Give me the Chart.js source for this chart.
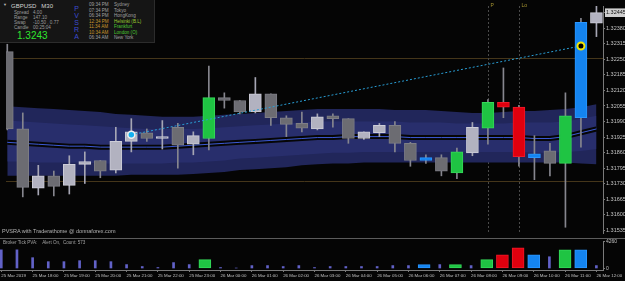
<!DOCTYPE html>
<html>
<head>
<meta charset="utf-8">
<script src="https://cdn.jsdelivr.net/npm/chart.js@4.4.1/dist/chart.umd.min.js"></script>
<style>
body { margin: 0; background: #050505; width: 625px; height: 281px; overflow: hidden; font-family: "Liberation Sans", Arial, sans-serif; }
#wrap { position: relative; width: 625px; height: 281px; }
canvas { position: absolute; left: 0; }
#priceChart { top: 0; }
#volChart { top: 239px; }
.sep { position: absolute; left: 0; top: 238px; width: 625px; height: 1px; background: #5c5c5c; }
.t { position: absolute; white-space: pre; line-height: 1; }
#info { position: absolute; left: 0; top: 0; width: 154px; height: 42px; background: #151515; border-right: 1px solid #2c2c2c; border-bottom: 1px solid #2c2c2c; }
.st { font-size: 4.6px; color: #9c9c9c; }
.ses { font-size: 4.6px; color: #a0a0a0; }
.on { color: #c8952c; }
.gr { color: #4cc832; }
</style>
</head>
<body>
<div id="wrap">
  <canvas id="priceChart" width="625" height="239"></canvas>
  <canvas id="volChart" width="625" height="42"></canvas>
  <div class="sep"></div>

  <div id="info">
    <div class="t" style="left:3px;top:3px;font-size:4px;color:#bbb;">▼</div>
    <div class="t" style="left:11px;top:3px;font-size:6px;color:#d4d4d4;">GBPUSD   M30</div>
    <div class="t st" style="left:14px;top:11px;">Spread</div><div class="t st" style="left:33px;top:11px;">4.00</div>
    <div class="t st" style="left:14px;top:16px;">Range</div><div class="t st" style="left:33px;top:16px;">147.10</div>
    <div class="t st" style="left:14px;top:21px;">Swap</div><div class="t st" style="left:33px;top:21px;">-10.50 , 0.77</div>
    <div class="t st" style="left:14px;top:26px;">Candle</div><div class="t st" style="left:33px;top:26px;">00:25:04</div>
    <div class="t" style="left:17px;top:31px;font-size:10px;color:#2fe52f;">1.3243</div>
    <div class="t" style="left:74px;top:5px;font-size:7px;line-height:7px;color:#3c4cd0;text-align:center;">P<br>V<br>S<br>R<br>A</div>
    <div class="t ses" style="left:89px;top:3px;">09:34 PM</div><div class="t ses" style="left:114px;top:3px;">Sydney</div>
    <div class="t ses" style="left:89px;top:8.5px;">07:34 PM</div><div class="t ses" style="left:114px;top:8.5px;">Tokyo</div>
    <div class="t ses" style="left:89px;top:14px;">06:34 PM</div><div class="t ses" style="left:114px;top:14px;">HongKong</div>
    <div class="t ses on" style="left:89px;top:19.5px;">12:34 PM</div><div class="t ses" style="left:114px;top:19.5px;color:#9ccc30;">Helsinki (B.L)</div>
    <div class="t ses on" style="left:89px;top:25px;">11:34 AM</div><div class="t ses gr" style="left:114px;top:25px;">Frankfurt</div>
    <div class="t ses on" style="left:89px;top:30.5px;">10:34 AM</div><div class="t ses gr" style="left:114px;top:30.5px;">London (O)</div>
    <div class="t ses" style="left:89px;top:36px;">06:34 AM</div><div class="t ses" style="left:114px;top:36px;">New York</div>
  </div>

  <div class="t" style="left:2px;top:229px;font-size:5.5px;color:#b4b4b4;">PVSRA with Traderathome @ donnaforex.com</div>
  <div class="t" style="left:3px;top:241px;font-size:4.6px;color:#a0a0a0;">Broker Tick PVA:    Alert On,  Count: 573</div>
</div>

<script>
// 30 minute bars, 25 Mar 17:00 .. 26 Mar 12:00
const opens  = [1.32282,1.31959,1.31711,1.31763,1.31723,1.31811,1.31827,1.31787,1.31907,1.31943,1.31919,1.31966,1.31895,1.31919,1.32090,1.32078,1.32030,1.32106,1.32006,1.31982,1.31959,1.32014,1.32002,1.31919,1.31943,1.31974,1.31899,1.31827,1.31839,1.31775,1.31859,1.31962,1.32070,1.32050,1.31839,1.31867,1.31815,1.32006,1.32401];
const highs  = [1.32313,1.32026,1.31807,1.31783,1.31847,1.31863,1.31827,1.31966,1.32002,1.31959,1.31994,1.31982,1.31947,1.32222,1.32110,1.32078,1.32174,1.32106,1.32014,1.32030,1.32022,1.32022,1.32002,1.31947,1.31982,1.31990,1.31903,1.31851,1.31851,1.31879,1.31986,1.32082,1.32214,1.32058,1.31931,1.31899,1.32110,1.32421,1.32473];
const lows   = [1.31955,1.31675,1.31683,1.31679,1.31687,1.31731,1.31755,1.31775,1.31863,1.31907,1.31875,1.31795,1.31851,1.31871,1.32046,1.32022,1.32026,1.31974,1.31927,1.31947,1.31955,1.31966,1.31899,1.31915,1.31927,1.31863,1.31803,1.31815,1.31763,1.31751,1.31847,1.31895,1.32006,1.31803,1.31747,1.31763,1.31548,1.31883,1.32345];
const closes = [1.31959,1.31715,1.31763,1.31719,1.31811,1.31823,1.31783,1.31907,1.31947,1.31919,1.31923,1.31891,1.31931,1.32090,1.32078,1.32030,1.32106,1.32006,1.31978,1.31962,1.32010,1.32002,1.31919,1.31947,1.31974,1.31899,1.31827,1.31839,1.31783,1.31863,1.31966,1.32070,1.32050,1.31843,1.31855,1.31815,1.32014,1.32405,1.32445];
// PVSRA candle class
const pvsra = ['down','down','up','down','up','up','down','up','up','down','up','down','up','green','down','down','up','down','down','down','up','down','down','up','up','down','down','blue','down','green','up','green','red','red','blue','down','green','blue','up'];
const volumes = [3000,3000,1740,1100,1100,1260,1260,1100,630,320,160,950,630,1420,160,80,470,470,320,470,160,320,320,320,320,470,470,630,630,630,470,1420,2210,3310,2210,1890,3000,3000,470];

// zone bands
const bandUpper = [1.32054,1.32050,1.32046,1.32042,1.32038,1.32034,1.32030,1.32022,1.32018,1.32014,1.32010,1.32010,1.32010,1.32014,1.32018,1.32022,1.32026,1.32030,1.32034,1.32038,1.32042,1.32042,1.32042,1.32042,1.32042,1.32038,1.32038,1.32038,1.32034,1.32030,1.32026,1.32026,1.32030,1.32034,1.32034,1.32038,1.32042,1.32050,1.32062];
const innerUpper = [1.31994,1.31990,1.31986,1.31982,1.31978,1.31974,1.31970,1.31966,1.31962,1.31959,1.31959,1.31959,1.31959,1.31962,1.31966,1.31970,1.31974,1.31978,1.31982,1.31986,1.31990,1.31990,1.31990,1.31990,1.31990,1.31990,1.31986,1.31986,1.31986,1.31982,1.31982,1.31982,1.31982,1.31986,1.31986,1.31986,1.31990,1.32002,1.32014];
const bandMid = [1.31903,1.31899,1.31895,1.31891,1.31887,1.31887,1.31883,1.31883,1.31883,1.31883,1.31883,1.31887,1.31891,1.31895,1.31899,1.31903,1.31907,1.31911,1.31915,1.31919,1.31923,1.31923,1.31927,1.31927,1.31927,1.31927,1.31923,1.31923,1.31923,1.31923,1.31923,1.31923,1.31923,1.31923,1.31919,1.31919,1.31927,1.31943,1.31959];
const innerLower = [1.31823,1.31823,1.31819,1.31819,1.31819,1.31819,1.31815,1.31815,1.31815,1.31815,1.31815,1.31819,1.31819,1.31823,1.31827,1.31835,1.31839,1.31843,1.31847,1.31851,1.31855,1.31859,1.31859,1.31863,1.31863,1.31863,1.31863,1.31863,1.31863,1.31863,1.31863,1.31863,1.31863,1.31863,1.31859,1.31859,1.31863,1.31867,1.31875];
const bandLower = [1.31763,1.31763,1.31763,1.31763,1.31763,1.31763,1.31763,1.31763,1.31767,1.31767,1.31767,1.31767,1.31771,1.31775,1.31779,1.31787,1.31791,1.31795,1.31799,1.31807,1.31811,1.31815,1.31815,1.31819,1.31819,1.31819,1.31819,1.31819,1.31819,1.31819,1.31819,1.31819,1.31819,1.31819,1.31819,1.31819,1.31819,1.31815,1.31811];

const trendBars = [8, 37];
const trendPrices = [1.31935, 1.32306];
const levelPrices = [1.32254, 1.31743];
const markBars = [31, 33];
const markLabels = ['P', 'Lo'];

const priceTicks = [1.32445,1.32380,1.32315,1.32250,1.32185,1.32120,1.32055,1.31990,1.31925,1.31860,1.31795,1.31730,1.31665,1.31600,1.31535];
const volTicks = [0, 4260];
const timeLabels = ['25 Mar 2019','25 Mar 18:00','25 Mar 19:00','25 Mar 20:00','25 Mar 21:00','25 Mar 22:00','25 Mar 23:00','26 Mar 00:00','26 Mar 01:00','26 Mar 02:00','26 Mar 03:00','26 Mar 04:00','26 Mar 05:00','26 Mar 06:00','26 Mar 07:00','26 Mar 08:00','26 Mar 09:00','26 Mar 10:00','26 Mar 11:00','26 Mar 12:00'];

const FONT = '"Liberation Sans", Arial, sans-serif';
const AXIS = '#7a7a7a';
const X_MIN = -0.083, X_MAX = 38.423;

const fills   = { up: '#b2b2c0', down: '#6c6c72', green: '#1fc443', red: '#e0000e', blue: '#1484f0' };
const borders = { up: '#cdcdd8', down: '#7e7e86', green: '#35d95a', red: '#f01828', blue: '#2a96ff' };

Chart.defaults.font.family = FONT;
Chart.defaults.animation = false;
Chart.defaults.plugins.legend.display = false;
Chart.defaults.plugins.tooltip.enabled = false;

const idx = opens.map((_, i) => i);
const pts = arr => arr.map((v, i) => ({x: i, y: v}));
const band = (data, color, fill, order) => ({
    type: 'line', data: pts(data), borderWidth: 0, pointRadius: 0,
    backgroundColor: color, fill: fill, order: order
});

const overlays = {
    id: 'overlays',
    beforeDatasetsDraw(chart) {
        const {ctx, chartArea: a, scales: {x, y}} = chart;
        ctx.save();
        ctx.lineWidth = 1;
        ctx.strokeStyle = '#45361a';
        levelPrices.forEach(p => {
            const py = Math.round(y.getPixelForValue(p)) + 0.5;
            ctx.beginPath(); ctx.moveTo(a.left, py); ctx.lineTo(a.right, py); ctx.stroke();
        });
        ctx.setLineDash([2, 2]);
        ctx.strokeStyle = '#4a4a4a';
        ctx.fillStyle = '#a89632';
        ctx.font = '5px ' + FONT;
        ctx.textBaseline = 'top';
        markBars.forEach((b, k) => {
            const px = Math.round(x.getPixelForValue(b)) + 0.5;
            ctx.beginPath(); ctx.moveTo(px, a.top); ctx.lineTo(px, a.bottom); ctx.stroke();
            ctx.fillText(markLabels[k], px + 2, 3);
        });
        ctx.restore();
    }
};

new Chart(document.getElementById('priceChart'), {
    type: 'bar',
    data: {
        datasets: [
            {
                data: idx.map(i => ({x: i, y: [opens[i], closes[i]]})),
                backgroundColor: pvsra.map(c => fills[c]),
                borderColor: pvsra.map(c => borders[c]),
                borderWidth: 1, borderSkipped: false, barThickness: 12,
                minBarLength: 2, grouped: false, order: 1
            },
            {
                data: idx.map(i => ({x: i, y: [lows[i], highs[i]]})),
                backgroundColor: pvsra.map(c => c === 'up' ? '#a6a6b4' : '#86868e'),
                barThickness: 1, grouped: false, order: 2
            },
            {
                type: 'line', data: pts(bandMid), borderColor: '#3c5ad6', borderWidth: 1,
                pointRadius: 0, order: 3
            },
            {
                type: 'line', data: pts(bandMid), borderColor: '#060606', borderWidth: 5,
                pointRadius: 0, order: 4
            },
            band(innerUpper, '#282e6c', '+1', 6),
            band(innerLower, '#282e6c', false, 6),
            band(bandUpper, '#21265a', '+1', 8),
            band(bandLower, '#21265a', false, 8),
            {
                type: 'line', data: trendPrices.map((p, k) => ({x: trendBars[k], y: p})),
                borderColor: '#2a9fd6', borderWidth: 1, borderDash: [2, 2],
                pointRadius: 0, order: 0
            },
            {
                type: 'line', data: trendPrices.map((p, k) => ({x: trendBars[k], y: p})),
                showLine: false, pointRadius: [3.5, 3.5],
                pointBackgroundColor: ['#15b0f0', '#000000'],
                pointBorderColor: ['#f0f0f0', '#f2e600'],
                pointBorderWidth: [1.5, 2], order: -1
            }
        ]
    },
    options: {
        responsive: false,
        devicePixelRatio: 1,
        layout: { padding: { left: 0, right: 0, top: 0, bottom: 1 } },
        scales: {
            x: { type: 'linear', min: X_MIN, max: X_MAX, offset: false, display: false },
            y: {
                position: 'right', min: 1.31524, max: 1.32473,
                afterBuildTicks: s => { s.ticks = priceTicks.map(v => ({value: v})); },
                afterFit: s => { s.width = 22; s.paddingTop = 0; s.paddingBottom = 0; },
                grid: { drawOnChartArea: false, color: AXIS, tickLength: 2 },
                border: { color: AXIS },
                ticks: {
                    autoSkip: false, padding: 1,
                    font: { size: 5.5 },
                    color: c => c.index === 0 ? '#101010' : '#c4c4c4',
                    showLabelBackdrop: c => c.index === 0,
                    backdropColor: '#cfcfcf',
                    backdropPadding: 1,
                    callback: v => v.toFixed(5)
                }
            }
        }
    },
    plugins: [overlays]
});

const spikes = idx.filter(i => pvsra[i] === 'up' || pvsra[i] === 'down');
const climax = idx.filter(i => !(pvsra[i] === 'up' || pvsra[i] === 'down'));

new Chart(document.getElementById('volChart'), {
    type: 'bar',
    data: {
        datasets: [
            {
                data: spikes.map(i => ({x: i, y: volumes[i]})),
                backgroundColor: '#6262c8', barThickness: 2, grouped: false
            },
            {
                data: climax.map(i => ({x: i, y: volumes[i]})),
                backgroundColor: climax.map(i => fills[pvsra[i]]),
                borderColor: climax.map(i => borders[pvsra[i]]),
                borderWidth: 1, borderSkipped: false, barThickness: 12, grouped: false
            }
        ]
    },
    options: {
        responsive: false,
        devicePixelRatio: 1,
        layout: { padding: { left: 0, right: 0, top: 2, bottom: 0 } },
        scales: {
            x: {
                type: 'linear', min: X_MIN, max: X_MAX, offset: false,
                afterBuildTicks: s => { s.ticks = timeLabels.map((_, k) => ({value: 2 * k})); },
                afterFit: s => { s.height = 11; s.paddingLeft = 0; s.paddingRight = 0; },
                grid: { drawOnChartArea: false, offset: false, color: AXIS, tickLength: 2 },
                border: { color: AXIS },
                ticks: {
                    autoSkip: false, maxRotation: 0, align: 'start', padding: 1,
                    font: { size: 4.4 }, color: '#c0c0c0',
                    callback: v => timeLabels[v / 2]
                }
            },
            y: {
                position: 'right', min: -240, max: 4420,
                afterBuildTicks: s => { s.ticks = volTicks.map(v => ({value: v})); },
                afterFit: s => { s.width = 22; s.paddingTop = 0; s.paddingBottom = 0; },
                grid: { drawOnChartArea: false, color: AXIS, tickLength: 2 },
                border: { color: AXIS },
                ticks: {
                    autoSkip: false, padding: 1, font: { size: 5 }, color: '#c0c0c0',
                    callback: v => String(v)
                }
            }
        }
    }
});
</script>
</body>
</html>
